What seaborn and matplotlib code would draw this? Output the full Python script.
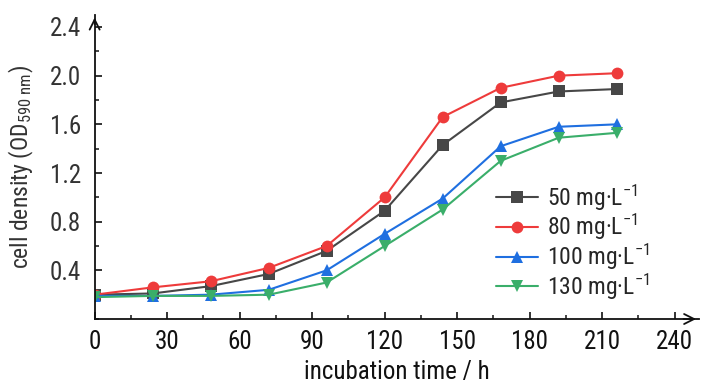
import matplotlib
matplotlib.use("Agg")
from matplotlib import pyplot as plt
from matplotlib.ticker import MultipleLocator
import pandas as pd
import seaborn as sns

# incubation time (h) and cell density OD590 for each dose
hours = [0, 24, 48, 72, 96, 120, 144, 168, 192, 216]
od_50 = [0.20, 0.21, 0.27, 0.37, 0.56, 0.89, 1.43, 1.78, 1.87, 1.89]
od_80 = [0.20, 0.26, 0.31, 0.42, 0.60, 1.00, 1.66, 1.90, 2.00, 2.02]
od_100 = [0.19, 0.19, 0.20, 0.24, 0.40, 0.70, 0.99, 1.42, 1.58, 1.60]
od_130 = [0.18, 0.19, 0.19, 0.20, 0.30, 0.60, 0.90, 1.30, 1.49, 1.53]
labels = ["50 mg·L$^{-1}$", "80 mg·L$^{-1}$", "100 mg·L$^{-1}$", "130 mg·L$^{-1}$"]

sns.set_style("ticks")
plt.rcParams['font.family'] = ['Roboto Condensed', 'DejaVu Sans']
plt.rcParams['mathtext.fontset'] = 'custom'
plt.rcParams['mathtext.rm'] = 'Roboto Condensed'
plt.rcParams['mathtext.it'] = 'Roboto Condensed'
plt.rcParams['mathtext.default'] = 'regular'

colors = ['#474747', '#ee3b3b', '#1f6fe0', '#3aae6a']
markers = ['s', 'o', '^', 'v']

fig = plt.figure(figsize=(7.28, 3.9), dpi=100)
ax = fig.add_axes([0.130, 0.182, 0.830, 0.780])

for vals, lab, c, m in zip([od_50, od_80, od_100, od_130], labels, colors, markers):
    df = pd.DataFrame({'h': hours, 'od': vals})
    sns.lineplot(data=df, x='h', y='od', ax=ax, color=c, marker=m,
                 markersize=8.5, markeredgewidth=0, linewidth=1.5, label=lab)

ax.set_xlim(0, 250)
ax.set_ylim(0, 2.5)
ax.set_xticks([0, 30, 60, 90, 120, 150, 180, 210, 240])
ax.set_yticks([0.4, 0.8, 1.2, 1.6, 2.0, 2.4])
ax.set_yticklabels(['0.4', '0.8', '1.2', '1.6', '2.0', '2.4'])
ax.xaxis.set_minor_locator(MultipleLocator(15))
ax.yaxis.set_minor_locator(MultipleLocator(0.2))
ax.tick_params(which='major', direction='in', length=5, width=1.2, labelsize=18,
               colors='#111111', pad=8)
ax.tick_params(which='minor', direction='in', length=3, width=1.2)
ax.tick_params(axis='y', labelcolor='#333333', pad=10)

for s in ['top', 'right']:
    ax.spines[s].set_visible(False)
for s in ['left', 'bottom']:
    ax.spines[s].set_linewidth(1.3)
    ax.spines[s].set_color('#111111')

# arrow heads on the axes
ax.annotate('', xy=(1.0, 0), xytext=(0.97, 0), xycoords='axes fraction',
            arrowprops=dict(arrowstyle='->', lw=1.3, color='#111111', mutation_scale=18))
ax.annotate('', xy=(0, 1.0), xytext=(0, 0.96), xycoords='axes fraction',
            arrowprops=dict(arrowstyle='->', lw=1.3, color='#111111', mutation_scale=18))

ax.set_xlabel('incubation time / h', fontsize=18, color='#111111', labelpad=4)
ax.set_ylabel('cell density (OD$_{590\\ nm}$)', fontsize=17, color='#333333', labelpad=10)

leg = ax.legend(loc='lower left', bbox_to_anchor=(0.64, 0.01), frameon=True,
                fontsize=17, handlelength=1.8, handletextpad=0.4,
                labelspacing=-0.02, borderpad=0.1, fancybox=False)
leg.get_frame().set_edgecolor('none')
leg.get_frame().set_facecolor('white')
leg.get_frame().set_alpha(1)

fig.savefig('out.png', dpi=100)
